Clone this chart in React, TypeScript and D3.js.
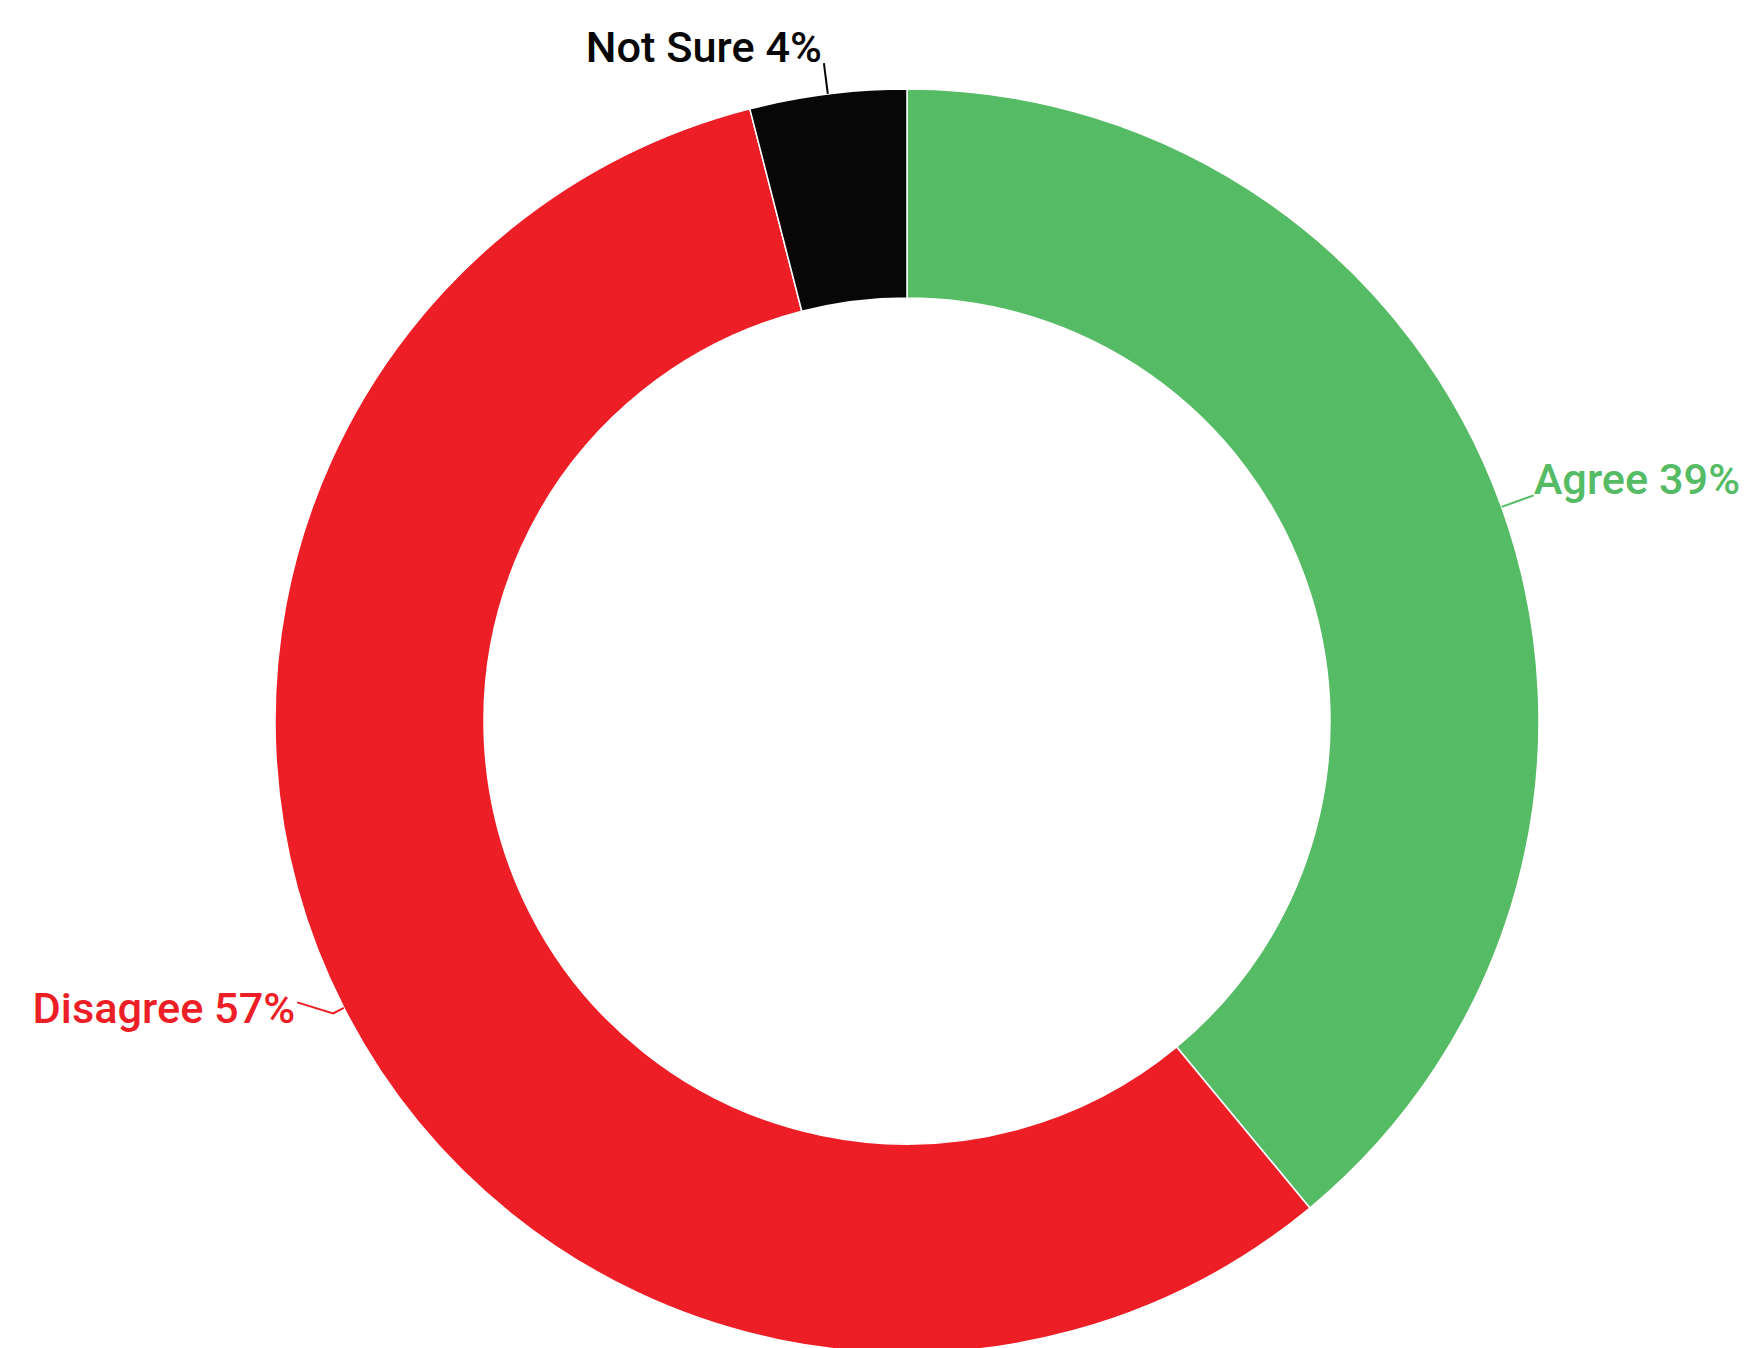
import React from "react";
import * as d3 from "d3";

const categories = ["Agree", "Disagree", "Not Sure"];
const values = [39, 57, 4];
const colors = ["#55BB65", "#EE1E26", "#070707"];

const W = 1751;
const H = 1348;
const CX = 907;
const CY = 721;
const R_OUT = 632;
const R_IN = 423;

// leader layout per label: radial extension, extra segment, text offset, anchor
const layout = [
  { ext: 34, seg: [0, 0], dx: 0, dy: -1, anchor: "start" },
  { ext: 12, seg: [-36, -11], dx: -2, dy: 21, anchor: "end" },
  { ext: 31, seg: [0, 0], dx: -2, dy: -1, anchor: "end" },
];

export default function App() {
  const data = categories.map((c, i) => ({ name: c, value: values[i], color: colors[i] }));
  const pie = d3.pie<any>().value((d: any) => d.value).sort(null);
  const arcs = pie(data);
  const arcGen = d3.arc<any>().innerRadius(R_IN).outerRadius(R_OUT);

  return (
    <svg
      width={W}
      height={H}
      style={{ position: "absolute", left: 0, top: 0, background: "#fff" }}
    >
      <g transform={`translate(${CX},${CY})`}>
        {arcs.map((a, i) => (
          <path key={i} d={arcGen(a) || ""} fill={a.data.color} stroke="#fff" strokeWidth={1.5} />
        ))}
        {arcs.map((a, i) => {
          const mid = (a.startAngle + a.endAngle) / 2;
          const L = layout[i];
          const p0 = [Math.sin(mid) * R_OUT, -Math.cos(mid) * R_OUT];
          const p1 = [Math.sin(mid) * (R_OUT + L.ext), -Math.cos(mid) * (R_OUT + L.ext)];
          const p2 = [p1[0] + L.seg[0], p1[1] + L.seg[1]];
          const line = d3.line()([p0 as [number, number], p1 as [number, number], p2 as [number, number]]);
          return (
            <g key={"l" + i}>
              <path d={line || ""} fill="none" stroke={a.data.color} strokeWidth={2} />
              <text
                x={p2[0] + L.dx}
                y={p2[1] + L.dy}
                textAnchor={L.anchor as any}
                fill={a.data.color}
                style={{ fontFamily: "Roboto", fontWeight: 500, fontSize: 43.3 }}
              >
                {`${a.data.name} ${a.data.value}%`}
              </text>
            </g>
          );
        })}
      </g>
    </svg>
  );
}
